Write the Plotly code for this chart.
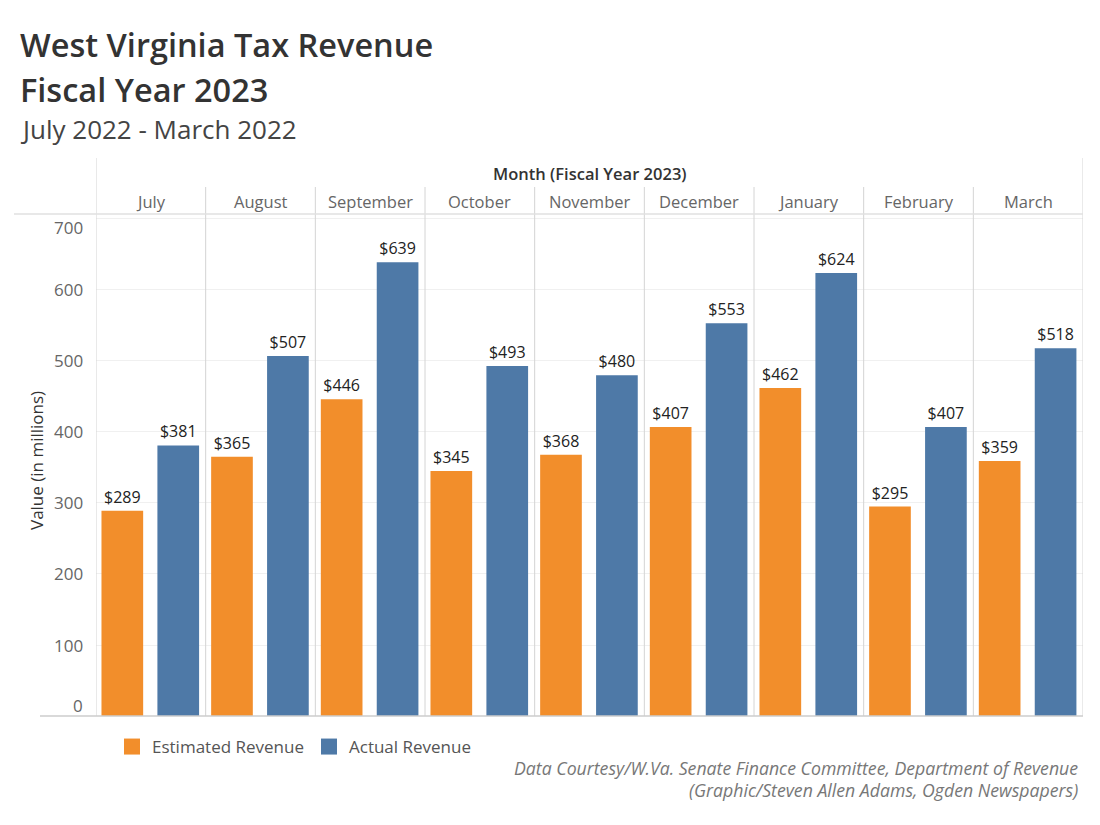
import plotly.graph_objects as go

months = ["July", "August", "September", "October", "November", "December", "January", "February", "March"]
estimated = [289, 365, 446, 345, 368, 407, 462, 295, 359]
actual = [381, 507, 639, 493, 480, 553, 624, 407, 518]
y_ticks = [0, 100, 200, 300, 400, 500, 600, 700]

ORANGE = "#F28E2B"
BLUE = "#4E79A7"
FONT = "Open Sans"
Y_MAX = 707

# plot area geometry (px)
L, R, T, B = 96, 17, 214, 109
W, H = 1100 - L - R, 825 - T - B


def px_x(px):
    return (px - L) / W


def px_y(py):
    return (825 - B - py) / H


xs = list(range(len(months)))

fig = go.Figure()
fig.add_trace(go.Bar(
    x=xs, y=estimated, name="Estimated Revenue", marker_color=ORANGE,
    marker_line_width=0, width=0.38, offset=-0.45, showlegend=False,
    texttemplate="$%{y}", textposition="outside",
    textfont=dict(family=FONT, size=16, color="#222"), cliponaxis=False,
))
fig.add_trace(go.Bar(
    x=xs, y=actual, name="Actual Revenue", marker_color=BLUE,
    marker_line_width=0, width=0.38, offset=0.06, showlegend=False,
    texttemplate="$%{y}", textposition="outside",
    textfont=dict(family=FONT, size=16, color="#222"), cliponaxis=False,
))
# legend entries (square swatches)
for name, col in [("Estimated Revenue", ORANGE), ("Actual Revenue", BLUE)]:
    fig.add_trace(go.Scatter(x=[None], y=[None], mode="markers", name=name,
                             marker=dict(symbol="square", size=18, color=col)))

shapes = []
line_col = "#d4d4d4"
for i in range(len(months) - 1):
    shapes.append(dict(type="line", xref="x", yref="paper", x0=i + 0.5, x1=i + 0.5,
                       y0=0, y1=px_y(187), line=dict(color=line_col, width=1)))
for xv in [-0.5, len(months) - 0.5]:
    shapes.append(dict(type="line", xref="x", yref="paper", x0=xv, x1=xv,
                       y0=0, y1=px_y(158), line=dict(color=line_col, width=1)))
shapes.append(dict(type="line", xref="paper", yref="paper", x0=px_x(14), x1=1,
                   y0=1, y1=1, line=dict(color="#e0e0e0", width=1.5)))
shapes.append(dict(type="line", xref="paper", yref="paper", x0=px_x(40), x1=1,
                   y0=0, y1=0, line=dict(color="#cccccc", width=1.5)))

annotations = []
for i, m in enumerate(months):
    annotations.append(dict(x=i, y=px_y(201), xref="x", yref="paper", text=m,
                            showarrow=False, yanchor="middle",
                            font=dict(family=FONT, size=16.5, color="#666")))
# y tick labels (end labels nudged inside, as in the original)
for v in y_ticks:
    shift = 11 if v == y_ticks[0] else (-9 if v == y_ticks[-1] else 0)
    annotations.append(dict(x=px_x(85), y=v, xref="paper", yref="y", text=str(v),
                            showarrow=False, xanchor="right", yanchor="middle", yshift=shift,
                            font=dict(family=FONT, size=17, color="#666")))
annotations.append(dict(x=0.5, y=px_y(173), xref="paper", yref="paper",
                        text="Month (Fiscal Year 2023)", showarrow=False, yanchor="middle",
                        font=dict(family=FONT, size=16.5, color="#333", weight=600)))
annotations.append(dict(x=px_x(18), y=px_y(44), xref="paper", yref="paper",
                        text="West Virginia Tax Revenue", showarrow=False,
                        xanchor="left", yanchor="middle",
                        font=dict(family=FONT, size=32.5, color="#333", weight=600)))
annotations.append(dict(x=px_x(18), y=px_y(89), xref="paper", yref="paper",
                        text="Fiscal Year 2023", showarrow=False,
                        xanchor="left", yanchor="middle",
                        font=dict(family=FONT, size=32.5, color="#333", weight=600)))
annotations.append(dict(x=px_x(18), y=px_y(129), xref="paper", yref="paper",
                        text="July 2022 - March 2022", showarrow=False,
                        xanchor="left", yanchor="middle",
                        font=dict(family=FONT, size=26, color="#444")))
annotations.append(dict(x=px_x(36), y=px_y(461), xref="paper", yref="paper",
                        text="Value (in millions)", showarrow=False, textangle=-90,
                        xanchor="center", yanchor="middle",
                        font=dict(family=FONT, size=17, color="#333")))
annotations.append(dict(x=px_x(1080), y=px_y(768), xref="paper", yref="paper",
                        text="<i>Data Courtesy/W.Va. Senate Finance Committee, Department of Revenue</i>",
                        showarrow=False, xanchor="right", yanchor="middle",
                        font=dict(family=FONT, size=17.7, color="#777")))
annotations.append(dict(x=px_x(1080), y=px_y(790), xref="paper", yref="paper",
                        text="<i>(Graphic/Steven Allen Adams, Ogden Newspapers)</i>",
                        showarrow=False, xanchor="right", yanchor="middle",
                        font=dict(family=FONT, size=17.7, color="#777")))

fig.update_layout(
    width=1100, height=825,
    margin=dict(l=L, r=R, t=T, b=B, autoexpand=False),
    paper_bgcolor="white", plot_bgcolor="white",
    barmode="overlay",
    font=dict(family=FONT),
    showlegend=True,
    legend=dict(orientation="h", x=px_x(112), y=px_y(747), xanchor="left", yanchor="middle",
                font=dict(family=FONT, size=17, color="#555"), itemsizing="trace"),
    shapes=shapes, annotations=annotations,
)
fig.update_xaxes(range=[-0.5, len(months) - 0.5], showticklabels=False, showgrid=False,
                 zeroline=False, showline=False)
fig.update_yaxes(range=[0, Y_MAX], tickvals=y_ticks, showgrid=True, gridcolor="#f0f0f0",
                 zeroline=False, showline=False, ticks="", showticklabels=False)

fig.write_html("out.html")
